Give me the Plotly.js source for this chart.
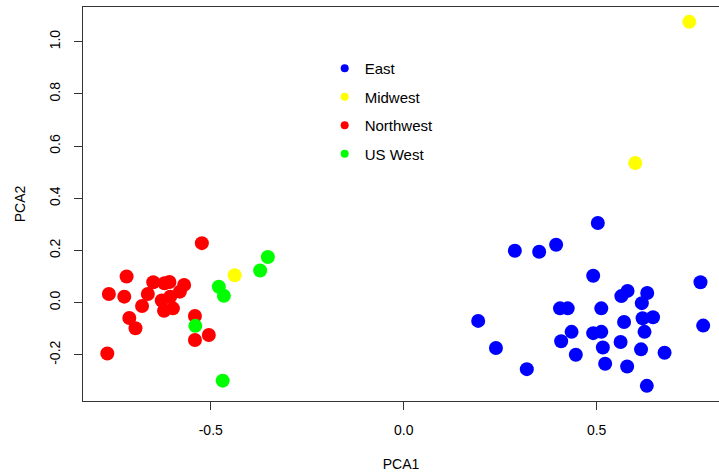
<!DOCTYPE html>
<html>
<head>
<meta charset="utf-8">
<script src="https://cdn.plot.ly/plotly-3.0.1.min.js"></script>
<style>html,body{margin:0;padding:0;background:#fff}#chart{width:719px;height:474px}</style>
</head>
<body>
<div id="chart"></div>
<script>
// Region categories and colours
const regions = ["East", "Midwest", "Northwest", "US West"];
const regionColors = ["#0000FF", "#FFFF00", "#FF0000", "#00FF00"];

// East
const eastX = [0.503, 0.288, 0.351, 0.395, 0.491, 0.769, 0.564, 0.580, 0.631, 0.617, 0.405, 0.425, 0.512, 0.193, 0.571, 0.619, 0.646, 0.776, 0.435, 0.491, 0.512, 0.624, 0.408, 0.239, 0.516, 0.562, 0.615, 0.676, 0.446, 0.522, 0.579, 0.319, 0.630];
const eastY = [0.305, 0.199, 0.195, 0.222, 0.103, 0.078, 0.025, 0.045, 0.037, -0.002, -0.022, -0.022, -0.022, -0.070, -0.074, -0.060, -0.056, -0.088, -0.112, -0.117, -0.112, -0.112, -0.148, -0.174, -0.172, -0.151, -0.179, -0.192, -0.200, -0.234, -0.245, -0.255, -0.319];

// Midwest
const midwestX = [-0.438, 0.740, 0.600];
const midwestY = [0.105, 1.076, 0.535];

// Northwest
const northwestX = [-0.523, -0.718, -0.764, -0.724, -0.663, -0.649, -0.678, -0.711, -0.695, -0.768, -0.620, -0.607, -0.569, -0.580, -0.627, -0.621, -0.598, -0.605, -0.541, -0.541, -0.505];
const northwestY = [0.228, 0.100, 0.033, 0.023, 0.033, 0.078, -0.013, -0.059, -0.098, -0.195, 0.074, 0.079, 0.068, 0.042, 0.008, -0.031, -0.022, 0.023, -0.051, -0.143, -0.124];

// US West
const uswestX = [-0.479, -0.466, -0.540, -0.469, -0.372, -0.352];
const uswestY = [0.061, 0.026, -0.089, -0.299, 0.123, 0.175];

// Axis ticks
const xTickVals = [-0.5, 0.0, 0.5];
const xTickText = ["-0.5", "0.0", "0.5"];
const yTickVals = [-0.2, 0.0, 0.2, 0.4, 0.6, 0.8, 1.0];
const yTickText = ["-0.2", "0.0", "0.2", "0.4", "0.6", "0.8", "1.0"];

const seriesX = [eastX, midwestX, northwestX, uswestX];
const seriesY = [eastY, midwestY, northwestY, uswestY];

const font = "Liberation Sans, Arial, sans-serif";
const traces = [];
regions.forEach((name, i) => {
  traces.push({
    type: "scatter", mode: "markers", name: name,
    x: seriesX[i], y: seriesY[i],
    marker: {color: regionColors[i], size: 14, line: {width: 0}},
    showlegend: false, hoverinfo: "skip"
  });
});
// legend entries (small dots, like the R legend)
regions.forEach((name, i) => {
  traces.push({
    type: "scatter", mode: "markers", name: name,
    x: [null], y: [null],
    marker: {color: regionColors[i], size: 8, line: {width: 0}},
    showlegend: true, legendgroup: "g" + i
  });
});

const layout = {
  width: 719, height: 474,
  margin: {l: 83, r: 0, t: 7, b: 73, pad: 0},
  paper_bgcolor: "#ffffff", plot_bgcolor: "#ffffff",
  font: {family: font, size: 14, color: "#000000"},
  showlegend: true,
  legend: {
    x: 0.38, y: 0.886, xanchor: "left", yanchor: "top",
    bgcolor: "rgba(0,0,0,0)", borderwidth: 0,
    font: {family: font, size: 15, color: "#000000"},
    tracegroupgap: 6, traceorder: "grouped"
  },
  xaxis: {
    range: [-0.831, 0.817], autorange: false,
    tickmode: "array", tickvals: xTickVals, ticktext: xTickText,
    ticks: "outside", ticklen: 8, tickwidth: 1, tickcolor: "#333",
    showline: true, linecolor: "#333", linewidth: 1, mirror: true,
    showgrid: false, zeroline: false,
    ticklabelstandoff: 8,
    tickfont: {family: font, size: 14, color: "#000"},
    title: {text: "PCA1", font: {family: font, size: 14, color: "#000"}, standoff: 22},
    automargin: false
  },
  yaxis: {
    range: [-0.377, 1.133], autorange: false,
    tickmode: "array", tickvals: yTickVals, ticktext: yTickText,
    ticks: "outside", ticklen: 8, tickwidth: 1, tickcolor: "#333",
    tickangle: -90,
    showline: true, linecolor: "#333", linewidth: 1, mirror: false,
    showgrid: false, zeroline: false,
    ticklabelstandoff: 8,
    tickfont: {family: font, size: 14, color: "#000"},
    title: {text: "PCA2", font: {family: font, size: 14, color: "#000"}, standoff: 18},
    automargin: false
  }
};

Plotly.newPlot("chart", traces, layout, {staticPlot: true, displayModeBar: false});
</script>
</body>
</html>
